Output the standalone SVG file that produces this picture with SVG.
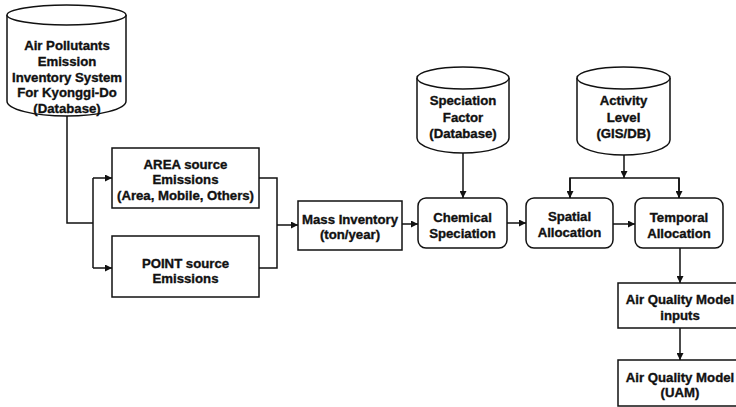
<svg xmlns="http://www.w3.org/2000/svg" width="736" height="407" viewBox="0 0 736 407">
  <style>
    .shape { fill: #ffffff; stroke: #111111; stroke-width: 1.5; }
    .wire { fill: none; stroke: #111111; stroke-width: 1.5; }
    .lbl { font-family: "Liberation Sans", Arial, Helvetica, sans-serif; font-weight: bold; font-size: 13.2px; fill: #111111; stroke: #111111; stroke-width: 0.35; text-anchor: middle; }
  </style>
  <defs>
    <marker id="arrow" viewBox="0 0 10 10" refX="10" refY="5" markerWidth="7" markerHeight="7" markerUnits="userSpaceOnUse" orient="auto">
      <path d="M0,0 L10,5 L0,10 z" fill="#111111"/>
    </marker>
  </defs>
  <rect width="736" height="407" fill="#ffffff"/>

  <!-- connectors -->
  <g id="connectors">
    <!-- database to the two source boxes -->
    <polyline class="wire" points="67,116 67,223 93,223"/>
    <polyline class="wire" points="93,178 93,268"/>
    <line class="wire" x1="93" y1="178" x2="112" y2="178" marker-end="url(#arrow)"/>
    <line class="wire" x1="93" y1="268" x2="112" y2="268" marker-end="url(#arrow)"/>
    <!-- sources merge into mass inventory -->
    <polyline class="wire" points="259,178 277,178 277,268 259,268"/>
    <line class="wire" x1="277" y1="225" x2="298" y2="225" marker-end="url(#arrow)"/>
    <!-- main chain -->
    <line class="wire" x1="402" y1="224" x2="418" y2="224" marker-end="url(#arrow)"/>
    <line class="wire" x1="507" y1="223" x2="526" y2="223" marker-end="url(#arrow)"/>
    <line class="wire" x1="613" y1="224" x2="635" y2="224" marker-end="url(#arrow)"/>
    <!-- speciation factor -->
    <line class="wire" x1="463" y1="151" x2="463" y2="198" marker-end="url(#arrow)"/>
    <!-- activity level split -->
    <line class="wire" x1="624" y1="155" x2="624" y2="178" marker-end="url(#arrow)"/>
    <polyline class="wire" points="570,198 570,178 679,178 679,198"/>
    <line class="wire" x1="570" y1="178" x2="570" y2="198" marker-end="url(#arrow)"/>
    <line class="wire" x1="679" y1="178" x2="679" y2="198" marker-end="url(#arrow)"/>
    <!-- model chain -->
    <line class="wire" x1="680" y1="248" x2="680" y2="283" marker-end="url(#arrow)"/>
    <line class="wire" x1="680" y1="328" x2="680" y2="360" marker-end="url(#arrow)"/>
  </g>

  <!-- emission inventory database -->
  <g id="inventory-db">
    <path class="shape" d="M7,15 L7,101 A59.5,15 0 0 0 126,101 L126,15"/>
    <ellipse class="shape" cx="66.5" cy="15" rx="59.5" ry="10"/>
    <text class="lbl" x="67" y="50">Air Pollutants</text>
    <text class="lbl" x="67" y="66">Emission</text>
    <text class="lbl" x="67" y="81.5">Inventory System</text>
    <text class="lbl" x="67" y="97">For Kyonggi-Do</text>
    <text class="lbl" x="67" y="112.5">(Database)</text>
  </g>

  <g id="area-source">
    <rect class="shape" x="112" y="148" width="147" height="60"/>
    <text class="lbl" x="185.5" y="168.5">AREA source</text>
    <text class="lbl" x="185.5" y="184">Emissions</text>
    <text class="lbl" x="185.5" y="199.5">(Area, Mobile, Others)</text>
  </g>

  <g id="point-source">
    <rect class="shape" x="112" y="236" width="147" height="61"/>
    <text class="lbl" x="185.5" y="267.5">POINT source</text>
    <text class="lbl" x="185.5" y="283">Emissions</text>
  </g>

  <g id="mass-inventory">
    <rect class="shape" x="298" y="201" width="104" height="49"/>
    <text class="lbl" x="350" y="223.5">Mass Inventory</text>
    <text class="lbl" x="350" y="238.5">(ton/year)</text>
  </g>

  <g id="speciation-db">
    <path class="shape" d="M417,78 L417,138 A46,15 0 0 0 509,138 L509,78"/>
    <ellipse class="shape" cx="463" cy="78" rx="46" ry="11"/>
    <text class="lbl" x="463" y="105">Speciation</text>
    <text class="lbl" x="463" y="121.5">Factor</text>
    <text class="lbl" x="463" y="138">(Database)</text>
  </g>

  <g id="activity-db">
    <path class="shape" d="M577,78 L577,140 A46.5,15 0 0 0 670,140 L670,78"/>
    <ellipse class="shape" cx="623.5" cy="78" rx="46.5" ry="11"/>
    <text class="lbl" x="623.5" y="105">Activity</text>
    <text class="lbl" x="623.5" y="121.5">Level</text>
    <text class="lbl" x="623.5" y="138">(GIS/DB)</text>
  </g>

  <g id="chemical-speciation">
    <rect class="shape" x="418" y="198" width="89" height="50" rx="8" ry="8"/>
    <text class="lbl" x="462.5" y="221.5">Chemical</text>
    <text class="lbl" x="462.5" y="237.5">Speciation</text>
  </g>

  <g id="spatial-allocation">
    <rect class="shape" x="526" y="198" width="87" height="50" rx="8" ry="8"/>
    <text class="lbl" x="569.5" y="221">Spatial</text>
    <text class="lbl" x="569.5" y="237">Allocation</text>
  </g>

  <g id="temporal-allocation">
    <rect class="shape" x="635" y="198" width="88" height="50" rx="8" ry="8"/>
    <text class="lbl" x="679" y="221.5">Temporal</text>
    <text class="lbl" x="679" y="237.5">Allocation</text>
  </g>

  <g id="model-inputs">
    <rect class="shape" x="618" y="283" width="126" height="45"/>
    <text class="lbl" x="680" y="303.5">Air Quality Model</text>
    <text class="lbl" x="680" y="319.5">inputs</text>
  </g>

  <g id="model-uam">
    <rect class="shape" x="618" y="360" width="126" height="46"/>
    <text class="lbl" x="680" y="381.5">Air Quality Model</text>
    <text class="lbl" x="680" y="396.5">(UAM)</text>
  </g>
</svg>
